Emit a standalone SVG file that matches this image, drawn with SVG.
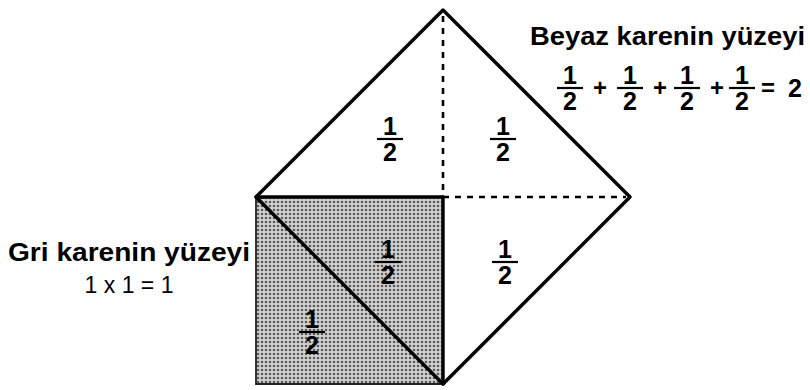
<svg xmlns="http://www.w3.org/2000/svg" width="810" height="390" viewBox="0 0 810 390">
<style>
.edge{stroke:#000;stroke-width:3.4;fill:none;stroke-linecap:round;stroke-linejoin:round}
.dash{stroke:#000;stroke-width:2.6;fill:none;stroke-dasharray:6 6}
.thin{stroke:#222;stroke-width:1.8;fill:none}
.num{font-family:"Liberation Sans",Arial,sans-serif;font-weight:bold;font-size:25px;fill:#000;text-anchor:middle}
.bar{stroke:#000;stroke-width:2.2}
.lbl{font-family:"Liberation Sans",Arial,sans-serif;font-weight:bold;font-size:25px;fill:#000}
.reg{font-family:"Liberation Sans",Arial,sans-serif;font-size:23px;fill:#000;text-anchor:middle}
.op{font-family:"Liberation Sans",Arial,sans-serif;font-weight:bold;font-size:24px;fill:#000;text-anchor:middle}
</style>
<defs>
<pattern id="dots" width="4" height="4" patternUnits="userSpaceOnUse">
<rect width="4" height="4" fill="#d2d2d2"/>
<circle cx="2" cy="2" r="1.3" fill="#5a5a5a"/>
</pattern>
<g id="half">
<text class="num" x="0" y="-4">1</text>
<line class="bar" x1="-13" y1="0" x2="13" y2="0"/>
<text class="num" x="0" y="22">2</text>
</g>
</defs>

<g id="grey-square">
<rect x="256" y="197" width="187" height="187" fill="url(#dots)"/>
<polyline class="thin" points="256,197 256,384 443,384"/>
</g>

<g id="connectors">
<line class="dash" x1="443" y1="16" x2="443" y2="197"/>
<line class="dash" x1="443" y1="197" x2="626" y2="197"/>
<line class="edge" x1="256" y1="197" x2="443" y2="197"/>
<line class="edge" x1="443" y1="197" x2="443" y2="384"/>
</g>

<g id="white-square">
<polygon class="edge" points="256,197 443,10 630,197 443,384"/>
</g>

<g id="fractions">
<use href="#half" x="390" y="139"/>
<use href="#half" x="503" y="139"/>
<use href="#half" x="388" y="262"/>
<use href="#half" x="505" y="262"/>
<use href="#half" x="312" y="332"/>
</g>

<g id="grey-label">
<text class="lbl" x="8" y="261" textLength="242" lengthAdjust="spacingAndGlyphs">Gri karenin yüzeyi</text>
<text class="reg" x="129" y="293">1 x 1 = 1</text>
</g>

<g id="white-label">
<text class="lbl" x="530" y="45" font-size="22" textLength="275" lengthAdjust="spacingAndGlyphs">Beyaz karenin yüzeyi</text>
<use href="#half" x="570" y="88"/>
<text class="op" x="600" y="96">+</text>
<use href="#half" x="630" y="88"/>
<text class="op" x="660" y="96">+</text>
<use href="#half" x="687" y="88"/>
<text class="op" x="717" y="96">+</text>
<use href="#half" x="742" y="88"/>
<text class="op" x="768" y="96">=</text>
<text class="num" x="795" y="97" font-size="27">2</text>
</g>
</svg>
